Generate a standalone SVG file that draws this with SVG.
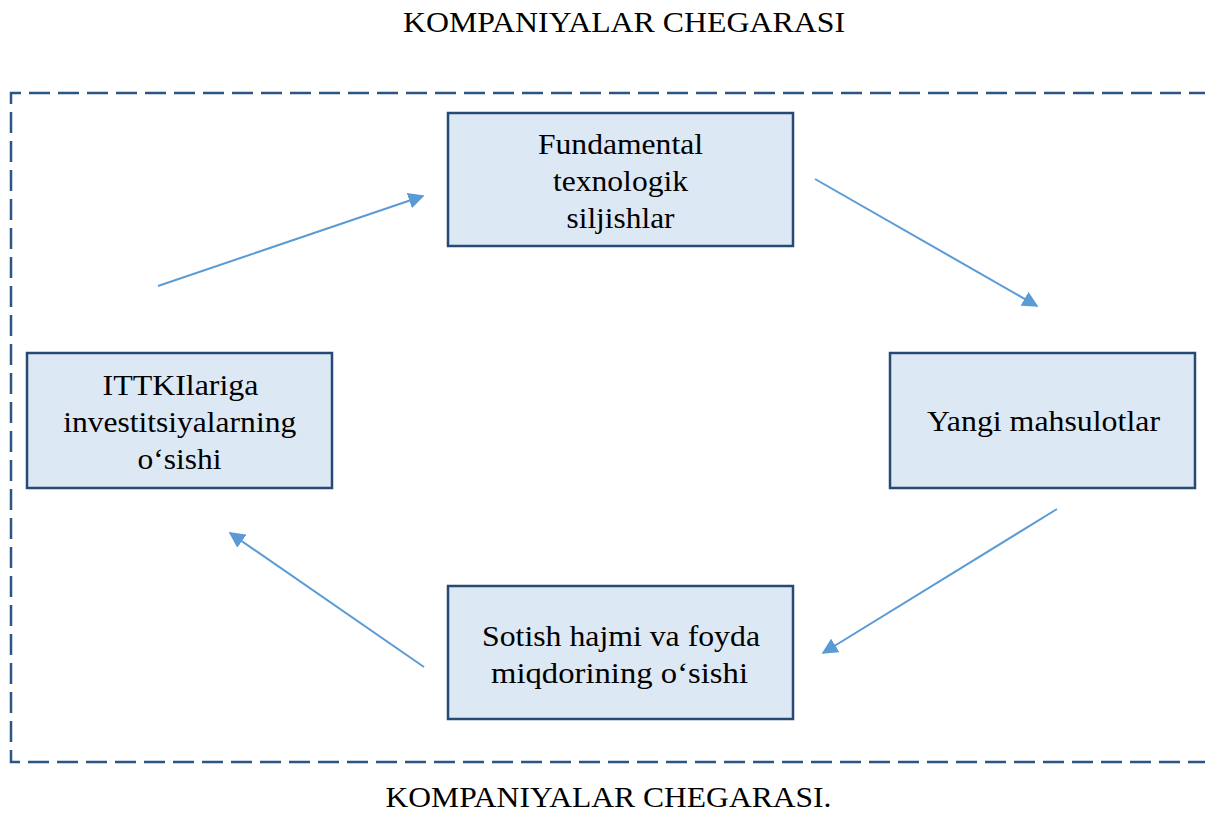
<svg xmlns="http://www.w3.org/2000/svg" width="1205" height="814" viewBox="0 0 1205 814">
<defs>
<style>
.t{font-family:"Liberation Serif","Times New Roman",serif;font-size:29px;fill:#000;text-anchor:middle}
.box{fill:#dde8f5;stroke:#264a74;stroke-width:2.5}
.con{stroke:#5b9bd5;stroke-width:2;fill:none;marker-end:url(#ah)}
</style>
<marker id="ah" viewBox="0 0 10 10" refX="9" refY="5" markerWidth="8" markerHeight="8" markerUnits="strokeWidth" orient="auto">
<path d="M0 0 L10 5 L0 10 z" fill="#5b9bd5"/>
</marker>
</defs>
<rect width="1205" height="814" fill="#fff"/>
<g id="boundary">
<path d="M1210 93 H11 V762 H1210" fill="none" stroke="#2b5583" stroke-width="2.5" stroke-dasharray="21 8"/>
<text class="t" x="624" y="32" textLength="442" lengthAdjust="spacingAndGlyphs">KOMPANIYALAR CHEGARASI</text>
<text class="t" x="608.5" y="807" textLength="446" lengthAdjust="spacingAndGlyphs">KOMPANIYALAR CHEGARASI.</text>
</g>
<g id="connectors">
<line class="con" x1="158" y1="286" x2="423" y2="196"/>
<line class="con" x1="815" y1="179" x2="1037" y2="306"/>
<line class="con" x1="1057" y1="509" x2="823" y2="653"/>
<line class="con" x1="424" y1="667" x2="230" y2="533"/>
</g>
<g id="node-fundamental">
<rect class="box" x="448" y="113" width="345" height="133"/>
<text class="t" x="620.5" y="154" textLength="165" lengthAdjust="spacingAndGlyphs">Fundamental</text>
<text class="t" x="620.5" y="191" textLength="135" lengthAdjust="spacingAndGlyphs">texnologik</text>
<text class="t" x="620.5" y="228" textLength="108" lengthAdjust="spacingAndGlyphs">siljishlar</text>
</g>
<g id="node-yangi">
<rect class="box" x="890" y="353" width="305" height="135"/>
<text class="t" x="1043.5" y="431" textLength="233" lengthAdjust="spacingAndGlyphs">Yangi mahsulotlar</text>
</g>
<g id="node-sotish">
<rect class="box" x="448" y="586" width="345" height="133"/>
<text class="t" x="621" y="646" textLength="278" lengthAdjust="spacingAndGlyphs">Sotish hajmi va foyda</text>
<text class="t" x="619.5" y="683" textLength="257" lengthAdjust="spacingAndGlyphs">miqdorining o‘sishi</text>
</g>
<g id="node-ittki">
<rect class="box" x="27" y="353" width="305" height="135"/>
<text class="t" x="180.5" y="395" textLength="156" lengthAdjust="spacingAndGlyphs">ITTKIlariga</text>
<text class="t" x="179.7" y="432" textLength="233" lengthAdjust="spacingAndGlyphs">investitsiyalarning</text>
<text class="t" x="179.5" y="469" textLength="84" lengthAdjust="spacingAndGlyphs">o‘sishi</text>
</g>
</svg>
